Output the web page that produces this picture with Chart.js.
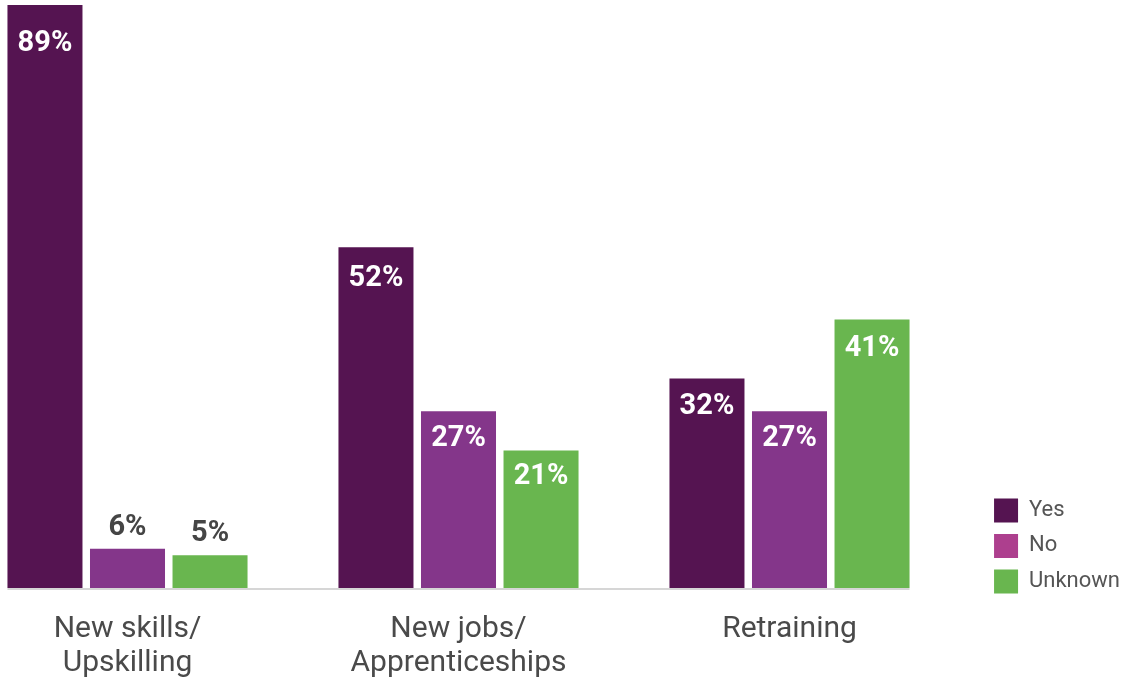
<!DOCTYPE html>
<html>
<head>
<meta charset="utf-8">
<script src="https://cdn.jsdelivr.net/npm/chart.js@4.4.1/dist/chart.umd.min.js"></script>
<style>
  html, body { margin: 0; padding: 0; background: #fff; overflow: hidden; }
  #wrap { position: relative; width: 1132px; height: 682px; overflow: hidden; }
  #chart { position: absolute; left: -38px; top: 0; }
</style>
</head>
<body>
<div id="wrap">
  <canvas id="chart" width="1168" height="682"></canvas>
</div>
<script>
const categories = [['New skills/', 'Upskilling'], ['New jobs/', 'Apprenticeships'], ['Retraining']];
const seriesNames = ['Yes', 'No', 'Unknown'];
const yesValues = [89, 52, 32];
const noValues = [6, 27, 27];
const unknownValues = [5, 21, 41];

const barColors = ['#551451', '#84368A', '#69B64F'];
const legendColors = ['#551451', '#AD3F8E', '#69B64F'];

Chart.defaults.font.family = 'Roboto';

// percentage labels: inside the bar (white) or above it when the bar is short
const valueLabels = {
  id: 'valueLabels',
  afterDatasetsDraw(chart) {
    const ctx = chart.ctx;
    ctx.save();
    ctx.font = 'bold 29px Roboto';
    ctx.textAlign = 'center';
    ctx.textBaseline = 'middle';
    chart.data.datasets.forEach((ds, i) => {
      chart.getDatasetMeta(i).data.forEach((bar, j) => {
        const v = ds.data[j];
        const h = bar.base - bar.y;
        let y;
        if (v >= 10) {
          ctx.fillStyle = '#ffffff';
          y = bar.y + 22 + 0.029 * h;
        } else {
          ctx.fillStyle = '#454545';
          y = bar.y - 21;
        }
        ctx.fillText(v + '%', bar.x, y);
      });
    });
    ctx.restore();
  }
};

// light grey base line under the bars only
const baseLine = {
  id: 'baseLine',
  beforeDatasetsDraw(chart) {
    const first = chart.getDatasetMeta(0).data[0];
    const last = chart.getDatasetMeta(2).data[2];
    const ctx = chart.ctx;
    const y = chart.chartArea.bottom + 1;
    ctx.save();
    ctx.strokeStyle = '#d6d6d6';
    ctx.lineWidth = 2;
    ctx.beginPath();
    ctx.moveTo(first.x - first.width / 2, y);
    ctx.lineTo(last.x + last.width / 2, y);
    ctx.stroke();
    ctx.restore();
  }
};

new Chart(document.getElementById('chart'), {
  type: 'bar',
  data: {
    labels: categories,
    datasets: [
      { label: seriesNames[0], data: yesValues, backgroundColor: barColors[0] },
      { label: seriesNames[1], data: noValues, backgroundColor: barColors[1] },
      { label: seriesNames[2], data: unknownValues, backgroundColor: barColors[2] }
    ]
  },
  options: {
    responsive: false,
    animation: false,
    devicePixelRatio: 1,
    categoryPercentage: 0.748,
    barPercentage: 0.909,
    layout: { padding: { top: 5, left: 0, right: 0, bottom: 0 } },
    plugins: {
      tooltip: { enabled: false },
      legend: {
        position: 'right',
        align: 'start',
        // empty title used as a spacer to push the legend down
        title: { display: true, text: '', font: { size: 12, lineHeight: 1.2 }, padding: { top: 467.5, bottom: 0 } },
        labels: {
          boxWidth: 24,
          boxHeight: 24,
          padding: 11.5,
          color: '#555555',
          font: { size: 22 },
          generateLabels(chart) {
            const items = Chart.defaults.plugins.legend.labels.generateLabels(chart);
            items.forEach((it, i) => { it.fillStyle = legendColors[i]; it.strokeStyle = legendColors[i]; it.lineWidth = 0; });
            return items;
          }
        }
      }
    },
    scales: {
      x: {
        grid: { display: false, drawTicks: false },
        border: { display: false },
        ticks: {
          color: '#4a4a4a',
          font: { size: 30, lineHeight: 1.12 },
          padding: 25,
          maxRotation: 0,
          minRotation: 0
        },
        afterFit(s) { s.height = 94; }
      },
      y: {
        position: 'right',
        min: 0,
        max: 89,
        grid: { display: false },
        border: { display: false },
        ticks: { display: false },
        afterFit(s) { s.width = s.chart.width - s.chart.legend.width - 993; }
      }
    }
  },
  plugins: [baseLine, valueLabels]
});
</script>
</body>
</html>
